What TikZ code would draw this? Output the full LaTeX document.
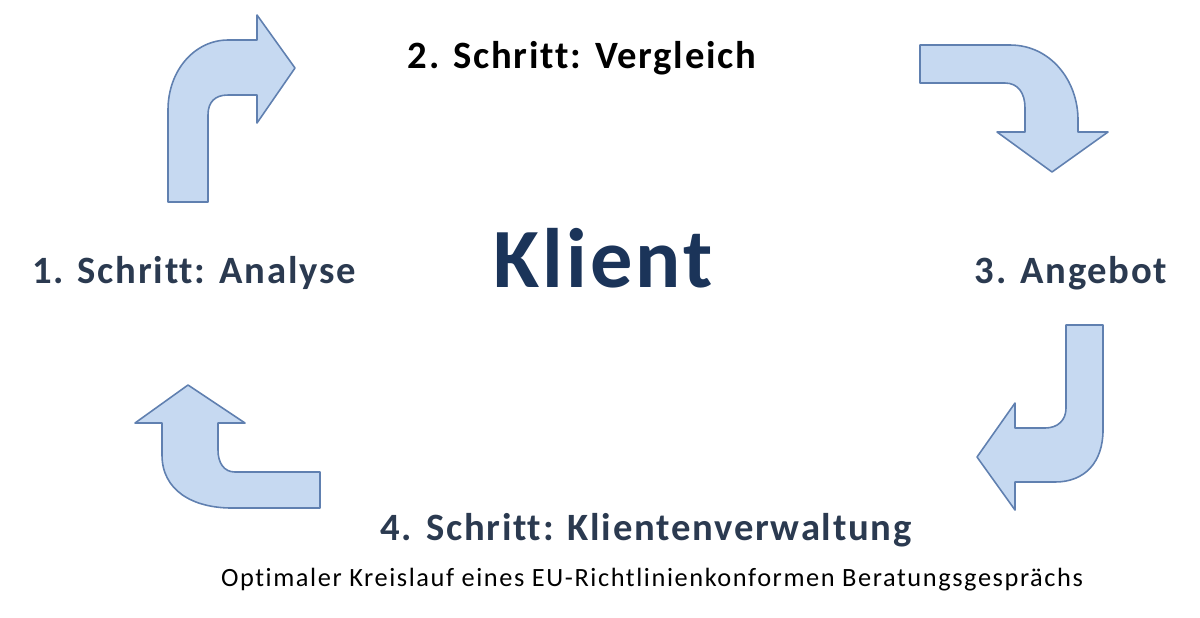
\documentclass[tikz,border=0pt]{standalone}
\usepackage{fontspec}
\setmainfont{Carlito}[Ligatures=NoCommon]
\usepackage{tikz}
\usetikzlibrary{positioning}
\definecolor{arrowfill}{HTML}{C6D9F1}
\definecolor{arrowline}{HTML}{6080B0}
\definecolor{stepnavy}{HTML}{2B3A50}
\definecolor{klientnavy}{HTML}{1B3459}
\tikzset{
    bentarrow/.style = {draw=arrowline, fill=arrowfill, line width=0.9pt, line join=round},
    steptext/.style = {inner sep=0pt, text=stepnavy, font=\bfseries\fontsize{22}{26}\selectfont\addfontfeatures{LetterSpace=4.5}},
    bigtext/.style = {inner sep=0pt, text=klientnavy, font=\bfseries\fontsize{48}{56}\selectfont\addfontfeatures{LetterSpace=3.5}},
    captext/.style = {inner sep=0pt, text=black, font=\fontsize{15}{18}\selectfont\addfontfeatures{LetterSpace=6}}
}
\begin{document}
\begin{tikzpicture}
  \useasboundingbox (0,0) rectangle (24,-12.34);

  % block arrows
  \draw[bentarrow] (3.36,-4.04) -- (3.36,-2.20) .. controls (3.36,-1.40) and (3.90,-0.80) .. (4.56,-0.80)
    -- (5.14,-0.80) -- (5.14,-0.30) -- (5.90,-1.36) -- (5.14,-2.46) -- (5.14,-1.90) -- (4.56,-1.90)
    .. controls (4.30,-1.90) and (4.16,-2.04) .. (4.16,-2.30) -- (4.16,-4.04) -- cycle;
  \draw[bentarrow] (18.40,-0.90) -- (20.20,-0.90) .. controls (21.00,-0.90) and (21.56,-1.60) .. (21.56,-2.40)
    -- (21.56,-2.64) -- (22.16,-2.64) -- (21.04,-3.44) -- (19.94,-2.64) -- (20.50,-2.64) -- (20.50,-2.16)
    .. controls (20.50,-1.86) and (20.36,-1.66) .. (20.10,-1.66) -- (18.40,-1.66) -- cycle;
  \draw[bentarrow] (21.32,-6.50) -- (22.06,-6.50) -- (22.06,-8.60) .. controls (22.06,-9.24) and (21.70,-9.64) .. (21.10,-9.64)
    -- (20.30,-9.64) -- (20.30,-10.20) -- (19.54,-9.14) -- (20.30,-8.06) -- (20.30,-8.56) -- (20.90,-8.56)
    .. controls (21.16,-8.56) and (21.32,-8.40) .. (21.32,-8.16) -- cycle;
  \draw[bentarrow] (6.40,-9.44) -- (6.40,-10.16) -- (4.64,-10.16) .. controls (3.84,-10.16) and (3.24,-9.80) .. (3.24,-9.10)
    -- (3.24,-8.46) -- (2.70,-8.46) -- (3.76,-7.70) -- (4.90,-8.46) -- (4.36,-8.46) -- (4.36,-9.00)
    .. controls (4.36,-9.26) and (4.48,-9.44) .. (4.70,-9.44) -- cycle;

  \node[steptext, text=black] (vergleich) at (11.64,-1.16) {2. Schritt: Vergleich};
  \node[bigtext] (klient) at (12.06,-5.16) {Klient};
  \node[steptext] (analyse) at (3.88,-5.46) {1. Schritt: Analyse};
  \node[steptext] (angebot) at (21.42,-5.46) {3. Angebot};
  \node[steptext] (verwaltung) at (12.92,-10.60) {4. Schritt: Klientenverwaltung};
  \node[captext] (caption) at (13.04,-11.60) {Optimaler Kreislauf eines EU-Richtlinienkonformen Beratungsgesprächs};
\end{tikzpicture}
\end{document}
